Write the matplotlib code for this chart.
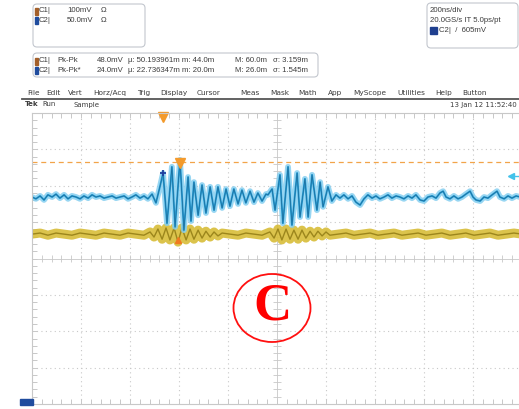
import numpy as np
import matplotlib
matplotlib.use('Agg')
import matplotlib.pyplot as plt
from matplotlib.patches import FancyBboxPatch, Ellipse, Rectangle

# Channel 2 (blue) trace, vertices: time in ns, level in divisions
c2_time = [-1000, -984, -967, -951, -935, -918, -902, -886, -869, -853, -837, -820, -804, -788,
           -771, -755, -739, -722, -706, -690, -673, -657, -641, -624, -608, -592, -576, -559,
           -543, -527, -510,
           -494, -478, -465, -449, -429, -416, -396, -380, -363, -351, -339, -322, -306, -290,
           -273, -257, -241, -224, -208, -192, -176, -159, -143, -127, -110, -94, -78, -61, -45,
           -37, -20, -8, 12, 24, 45, 61, 82, 94, 114, 127, 143, 163, 176, 188, 208, 224, 241,
           257, 273, 290, 306, 322, 339, 355, 371, 388, 404, 420, 437, 453, 469, 486, 502, 518,
           535, 551, 567, 584, 600, 616, 633, 649, 665, 678, 690, 706, 722, 739, 755, 771, 788,
           800, 812, 829, 845, 861, 878, 898, 910, 927, 943, 959, 976, 992]
c2_div = [1.69, 1.64, 1.72, 1.61, 1.75, 1.69, 1.77, 1.66, 1.75, 1.64, 1.72, 1.69, 1.64, 1.72,
          1.66, 1.75, 1.69, 1.72, 1.66, 1.69, 1.72, 1.66, 1.69, 1.72, 1.64, 1.69, 1.75, 1.66,
          1.72, 1.64, 1.77,
          1.53, 1.97, 2.35, 0.97, 2.52, 0.87, 2.71, 0.78, 2.24, 1.03, 2.10, 1.19, 2.02, 1.25,
          1.97, 1.33, 1.97, 1.39, 1.91, 1.44, 1.91, 1.50, 1.88, 1.53, 1.85, 1.55, 1.80, 1.58, 1.77,
          1.75, 1.91, 1.33, 2.30, 0.97, 2.52, 0.92, 2.35, 1.14, 2.19, 1.14, 2.30, 1.33, 2.10,
          1.42, 1.97, 1.58, 1.75,
          1.66, 1.75, 1.64, 1.72, 1.55, 1.47, 1.64, 1.75, 1.66, 1.72, 1.64, 1.69, 1.75, 1.66,
          1.72, 1.69, 1.64, 1.72, 1.66, 1.75, 1.61, 1.58, 1.69, 1.72, 1.66, 1.80, 1.85, 1.69,
          1.64, 1.72, 1.64, 1.69, 1.77, 1.85, 1.69, 1.61, 1.58, 1.69, 1.66, 1.75, 1.85, 1.69,
          1.64, 1.72, 1.66, 1.72, 1.69]

# Channel 1 (yellow) trace
c1_time = [-1000, -967, -935, -902, -869, -837, -804, -771, -739, -706, -673, -641, -608, -576,
           -543, -518, -502, -486, -469, -453, -437, -420, -404, -388, -371, -355, -339, -322,
           -306, -290, -273, -257, -241, -224, -192, -159, -127, -94, -61, -29, -12, 4, 20, 37,
           53, 69, 86, 102, 118, 135, 151, 167, 184, 200, 216, 249, 282, 314, 347, 380, 412,
           445, 478, 510, 543, 576, 608, 641, 673, 706, 739, 771, 804, 837, 869, 902, 935, 967, 1000]
c1_div = [0.67, 0.70, 0.64, 0.70, 0.67, 0.64, 0.70, 0.67, 0.64, 0.70, 0.67, 0.64, 0.70, 0.67,
          0.64, 0.73, 0.59, 0.81, 0.53, 0.84, 0.51, 0.84, 0.45, 0.84, 0.51, 0.81, 0.53, 0.78,
          0.56, 0.75, 0.59, 0.73, 0.62, 0.70, 0.67, 0.64, 0.70, 0.67, 0.64, 0.73, 0.56, 0.81,
          0.51, 0.81, 0.53, 0.78, 0.53, 0.78, 0.56, 0.75, 0.59, 0.75, 0.62, 0.73, 0.64, 0.67,
          0.70, 0.64, 0.67, 0.70, 0.64, 0.67, 0.70, 0.64, 0.67, 0.70, 0.64, 0.67, 0.70, 0.64,
          0.67, 0.70, 0.64, 0.67, 0.70, 0.64, 0.67, 0.70, 0.67]

trigger_level = 2.65
trigger_time = -465
c2_marker = (-465, 2.35)
c1_marker = (-404, 0.50)
level_marker = (-396, 2.62)
c2_ref = (955, 2.27)

menu_items = ['File', 'Edit', 'Vert', 'Horz/Acq', 'Trig', 'Display', 'Cursor', 'Meas', 'Mask',
              'Math', 'App', 'MyScope', 'Utilities', 'Help', 'Button']
menu_x = [27, 46, 68, 93, 137, 160, 197, 240, 270, 298, 328, 353, 397, 435, 462]

ch_rows = [('C1|', '100mV', 'Ω'), ('C2|', '50.0mV', 'Ω')]
meas_rows = [('C1|', 'Pk-Pk', '48.0mV', 'µ: 50.193961m m: 44.0m', 'M: 60.0m', 'σ: 3.159m'),
             ('C2|', 'Pk-Pk*', '24.0mV', 'µ: 22.736347m m: 20.0m', 'M: 26.0m', 'σ: 1.545m')]
horiz_lines = ['200ns/div', '20.0GS/s IT 5.0ps/pt']

c1_col = '#a35f2a'
c2_col = '#1f4c9e'
txt_col = '#3c3c3c'
grid_col = '#c8c8c8'

fig = plt.figure(figsize=(5.19, 4.09), dpi=100)
fig.patch.set_facecolor('white')

# graticule axes: 10 x 8 divisions
ax = fig.add_axes([32 / 519, 5 / 409, 490 / 519, 291 / 409])
ax.set_xlim(-1000, 1000)
ax.set_ylim(-4, 4)
for s in ['left', 'top', 'bottom']:
    ax.spines[s].set_color(grid_col)
    ax.spines[s].set_linewidth(0.8)
ax.spines['right'].set_visible(False)
ax.set_xticks(np.arange(-1000, 1001, 200))
ax.set_xticks(np.arange(-1000, 1001, 40), minor=True)
ax.set_yticks(np.arange(-4, 4.1, 1))
ax.set_yticks(np.arange(-4, 4.1, 0.2), minor=True)
ax.tick_params(which='both', direction='in', length=3.5, color=grid_col, width=0.7,
               top=True, bottom=True, left=True, right=False,
               labelbottom=False, labelleft=False)

for v in range(-3, 4):
    if v != 0:
        ax.axhline(v, color=grid_col, lw=0.8, ls=(0, (1, 3)))
for t in range(-800, 801, 200):
    if t != 0:
        ax.axvline(t, color=grid_col, lw=0.8, ls=(0, (1, 3)))
ax.axhline(0, color=grid_col, lw=0.6)
ax.axvline(0, color=grid_col, lw=0.6)
ax.vlines(np.arange(-1000, 1001, 40), -0.1, 0.1, color=grid_col, lw=0.6)
ax.hlines(np.arange(-4, 4.1, 0.2), -16, 16, color=grid_col, lw=0.6)

# trigger level
ax.axhline(trigger_level, color='#f2a449', lw=0.9, ls=(0, (4, 3)))

# traces
ax.plot(c1_time, c1_div, color='#d8bd38', lw=6.5, solid_joinstyle='round', alpha=0.9)
ax.plot(c1_time, c1_div, color='#9c861c', lw=1.0)
ax.plot(c2_time, c2_div, color='#86cff0', lw=4.2, solid_joinstyle='round', alpha=0.85)
ax.plot(c2_time, c2_div, color='#2b9fd6', lw=1.4)
ax.plot(c2_time, c2_div, color='#1a6a98', lw=0.5)

ax.plot(trigger_time, 3.9, marker='v', color='#f39a2c', ms=7, clip_on=False)
ax.plot(*level_marker, marker='v', color='#f39a2c', ms=7)
ax.plot(*c1_marker, marker='^', color='#f07a20', ms=4)
ax.plot(*c2_marker, marker='+', color='#1f3f9f', ms=5, mew=1.3)
ax.plot([c2_ref[0], 1000], [c2_ref[1], c2_ref[1]], color='#43c2ea', lw=1)
ax.plot(*c2_ref, marker='<', color='#43c2ea', ms=4)

# overlay in pixel coordinates for the readouts and the annotation
deco = fig.add_axes([0, 0, 1, 1], zorder=5)
deco.set_xlim(0, 519)
deco.set_ylim(409, 0)
deco.axis('off')
deco.patch.set_alpha(0)

def box(x, y, w, h):
    deco.add_patch(FancyBboxPatch((x, y), w, h, boxstyle='round,pad=0,rounding_size=4',
                                  ec='#c3c7ce', fc='white', lw=0.8))

def txt(x, y, s, **kw):
    kw.setdefault('family', 'Liberation Sans')
    kw.setdefault('fontsize', 5.6)
    deco.text(x, y, s, color=txt_col, va='center', ha='left', **kw)

box(33, 4, 112, 43)
for i, (row, col) in enumerate(zip(ch_rows, [c1_col, c2_col])):
    y = 11 + i * 9.5
    deco.add_patch(Rectangle((35, y - 3.5), 3, 7, color=col))
    txt(38.5, y, row[0])
    txt(67, y, row[1])
    txt(101, y, row[2])

box(33, 53, 285, 24)
for i, (row, col) in enumerate(zip(meas_rows, [c1_col, c2_col])):
    y = 61 + i * 9.5
    deco.add_patch(Rectangle((35, y - 3.5), 3, 7, color=col))
    for x, s in zip([38.5, 57, 97, 128, 235, 273], row):
        txt(x, y, s)

box(427, 3, 91, 45)
for i, s in enumerate(horiz_lines):
    txt(430, 11 + i * 9.5, s)
deco.add_patch(Rectangle((430, 26.5), 7, 7, color='#1f3f8f'))
txt(439, 30, 'C2|  /  605mV')

# menu bar
for x, s in zip(menu_x, menu_items):
    txt(x, 93, s, family='DejaVu Sans', fontsize=5.3)
deco.plot([22, 519], [98.5, 98.5], color='#555555', lw=1.3)
txt(25, 104.5, 'Tek', family='DejaVu Sans', fontsize=5, weight='bold')
txt(42, 104.5, 'Run', family='DejaVu Sans', fontsize=5)
txt(73, 104.5, 'Sample', family='DejaVu Sans', fontsize=5)
txt(450, 104.5, '13 Jan 12 11:52:40', family='DejaVu Sans', fontsize=5)

# ground reference marker
deco.add_patch(Rectangle((20, 399), 13, 6, color=c2_col))

# red circled C
deco.add_patch(Ellipse((272, 308), 77, 68, fill=False, ec='#ff1010', lw=1.3))
deco.text(272, 320, 'C', family='Liberation Serif', weight='bold', fontsize=38,
          color='#ff0000', ha='center', va='baseline')

fig.savefig('out.png', dpi=100)
